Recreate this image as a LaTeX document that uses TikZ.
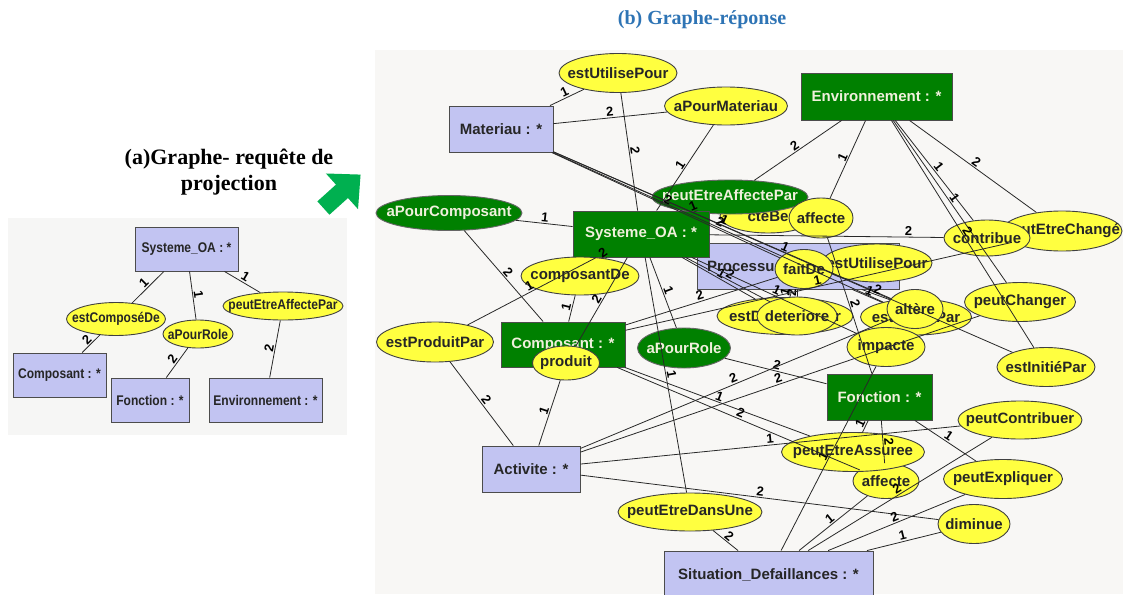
\documentclass[tikz,border=0pt]{standalone}
\usepackage{fontspec}
\usepackage{graphicx}
\setmainfont{Liberation Serif}
\setsansfont{Liberation Sans}
\usetikzlibrary{shapes.geometric}
\definecolor{bgmain}{RGB}{248,247,245}
\definecolor{bgleft}{RGB}{246,246,245}
\definecolor{lav}{RGB}{194,196,242}
\definecolor{grn}{RGB}{0,128,0}
\definecolor{yel}{RGB}{255,255,64}
\definecolor{edgec}{RGB}{40,40,40}
\definecolor{titleblue}{RGB}{46,116,181}
\definecolor{arrowgreen}{RGB}{0,176,80}
\definecolor{gtext}{RGB}{240,240,220}
\newcommand{\lt}[1]{\makebox[0pt]{\scalebox{0.86}[1]{#1}}}
\newcommand{\mt}[1]{\makebox[0pt]{#1}}
\begin{document}
\begin{tikzpicture}[x=1pt,y=-1pt,
  every node/.style={font=\sffamily\bfseries\fontsize{15}{18}\selectfont, inner sep=0pt},
  rb/.style={draw=black!70, line width=0.9pt, fill=lav, rectangle, text=black!85},
  gb/.style={draw=black!70, line width=0.9pt, fill=grn, rectangle, text=gtext},
  ye/.style={draw=black!75, line width=0.9pt, fill=yel, ellipse, text=black!85},
  ge/.style={draw=black!60, line width=0.9pt, fill=grn, ellipse, text=gtext},
  small/.style={font=\sffamily\bfseries\fontsize{14}{16}\selectfont},
  ed/.style={draw=edgec, line width=0.8pt},
  lb/.style={font=\sffamily\bfseries\fontsize{13}{13}\selectfont, sloped, above=1pt, midway, text=black}
]
\useasboundingbox (0,0) rectangle (1123,594);
\fill[white] (0,0) rectangle (1123,594);
\fill[bgmain] (375,50) rectangle (1123,594);
\fill[bgleft] (8,218) rectangle (347,435);

% titles
\node[font=\rmfamily\bfseries\fontsize{20}{22}\selectfont, text=titleblue] (tb) at (702,20) {(b) Graphe-réponse};
\node[font=\rmfamily\bfseries\fontsize{22}{26}\selectfont, align=center] (ta) at (229,172) {(a)Graphe- requête de\\projection};

% green arrow
\begin{scope}[shift={(339,194)}, rotate=42]
\fill[arrowgreen] (-21,-9) -- (4,-9) -- (4,-24) -- (29,0) -- (4,24) -- (4,9) -- (-21,9) -- cycle;
\end{scope}

% ---------- left graph (a)
\node[rb, small, minimum width=103, minimum height=44] (lsys) at (186.5,249) {\lt{Systeme\_OA : *}};
\node[ye, small, minimum width=99, minimum height=33] (lcd) at (116,319) {\lt{estComposéDe}};
\node[ye, small, minimum width=70, minimum height=28] (lapr) at (198,334) {\lt{aPourRole}};
\node[ye, small, minimum width=120, minimum height=28] (lpea) at (283,306) {\lt{peutEtreAffectePar}};
\node[rb, small, minimum width=93, minimum height=44] (lcomp) at (59.5,375) {\lt{Composant : *}};
\node[rb, small, minimum width=78, minimum height=44] (lfon) at (150,400) {\lt{Fonction : *}};
\node[rb, small, minimum width=113, minimum height=44] (lenv) at (265.5,400) {\lt{Environnement : *}};
\draw[ed] (lsys) -- node[lb]{1} (lcd);
\draw[ed] (lcd) -- node[lb]{2} (lcomp);
\draw[ed] (lsys) -- node[lb]{1} (lapr);
\draw[ed] (lapr) -- node[lb]{2} (lfon);
\draw[ed] (lsys) -- node[lb]{1} (lpea);
\draw[ed] (lpea) -- node[lb]{2} (lenv);

% ---------- main graph (b): nodes, bottom first
\node[rb, minimum width=104, minimum height=46] (mat) at (501,129) {\mt{Materiau : *}};
\node[gb, minimum width=151, minimum height=47] (env) at (876.5,96.5) {\mt{Environnement : *}};
\node[rb, minimum width=202, minimum height=46] (proc) at (798,266) {\makebox[0pt][l]{\hspace*{-91pt}Processus : *}};
\node[ye, minimum width=118, minimum height=39] (eup1) at (618,73) {\mt{estUtilisePour}};
\node[ye, minimum width=123, minimum height=38] (apm) at (726,106) {\mt{aPourMateriau}};
\node[ye, minimum width=96, minimum height=34] (hid) at (768,216) {\mt{cteBe}};
\node[ge, minimum width=156, minimum height=34] (pea) at (730,197) {\mt{peutEtreAffectePar}};
\node[ye, minimum width=64, minimum height=40] (aff1) at (821,218) {\mt{affecte}};
\node[gb, minimum width=136, minimum height=46] (sys) at (641,234) {\mt{Systeme\_OA : *}};
\node[ge, minimum width=146, minimum height=35] (apc) at (449,213) {\mt{aPourComposant}};
\node[ye, minimum width=118, minimum height=38] (cde) at (580,276) {\mt{composantDe}};
\node[ye, minimum width=117, minimum height=40] (epp) at (435,342) {\mt{estProduitPar}};
\node[gb, minimum width=124, minimum height=45] (comp) at (563,344.5) {\mt{Composant : *}};
\node[ye, minimum width=67, minimum height=34] (prod) at (566,363) {\mt{produit}};
\node[ge, minimum width=93, minimum height=40] (apr) at (684,348) {\mt{aPourRole}};
\node[ye, minimum width=120, minimum height=40] (pec) at (1062,231) {\mt{peutEtreChangé}};
\node[ye, minimum width=86, minimum height=36] (con) at (987,238) {\mt{contribue}};
\node[ye, minimum width=110, minimum height=38] (eup2) at (877,263) {\mt{estUtilisePour}};
\node[ye, minimum width=58, minimum height=39] (fd) at (804,269) {\mt{faitDe}};
\node[ye, minimum width=111, minimum height=39] (pch) at (1020,302) {\mt{peutChanger}};
\node[ye, minimum width=136, minimum height=37] (edr) at (785,316) {\mt{estDeterioréPar}};
\node[ye, minimum width=80, minimum height=38] (det) at (797,316) {\mt{deteriore}};
\node[ye, minimum width=111, minimum height=36] (eap) at (916,317) {\mt{estAltéréPar}};
\node[ye, minimum width=56, minimum height=39] (alt) at (915,309) {\mt{altère}};
\node[ye, minimum width=78, minimum height=39] (imp) at (886,347) {\mt{impacte}};
\node[ye, minimum width=98, minimum height=39] (eip) at (1046,367) {\mt{estInitiéPar}};
\node[gb, minimum width=105, minimum height=46] (fon) at (879.5,397) {\mt{Fonction : *}};
\node[ye, minimum width=124, minimum height=38] (pctb) at (1020,420) {\mt{peutContribuer}};
\node[ye, minimum width=66, minimum height=35] (aff2) at (886,481) {\mt{affecte}};
\node[ye, minimum width=143, minimum height=39] (pea2) at (853,452) {\mt{peutEtreAssuree}};
\node[ye, minimum width=119, minimum height=39] (pex) at (1003,479) {\mt{peutExpliquer}};
\node[ye, minimum width=72, minimum height=39] (dim) at (974,524) {\mt{diminue}};
\node[ye, minimum width=144, minimum height=38] (ped) at (690,512) {\mt{peutEtreDansUne}};
\node[rb, minimum width=98, minimum height=46] (act) at (531,469) {\mt{Activite : *}};
\node[rb, minimum width=209, minimum height=48] (sit) at (768.5,575) {\mt{Situation\_Defaillances : *}};

% ---------- main graph (b): connectors
\draw[ed] (mat) -- node[lb]{1} (eup1);
\draw[ed] (mat) -- node[lb]{2} (apm);
\draw[ed] (eup1) -- node[lb]{2} (sys);
\draw[ed] (apm) -- node[lb]{1} (sys);
\draw[ed] (sys) -- node[lb]{1} (pea);
\draw[ed] (pea) -- node[lb]{2} (env);
\draw[ed] (env) -- node[lb]{1} (aff1);
\draw[ed] (env) -- node[lb]{1} (con);
\draw[ed] (env) -- node[lb]{1} (pch);
\draw[ed] (env) -- node[lb]{2} (eip);
\draw[ed] (env) -- node[lb]{2} (pec);
\draw[ed] (sys) -- node[lb]{1} (apc);
\draw[ed] (apc) -- node[lb]{2} (comp);
\draw[ed] (sys) -- node[lb]{1} (apr);
\draw[ed] (apr) -- node[lb]{2} (fon);
\draw[ed] (sys) -- node[lb]{2} (cde);
\draw[ed] (cde) -- node[lb]{1} (comp);
\draw[ed] (epp) -- node[lb]{1} (sys);
\draw[ed] (epp) -- node[lb]{2} (act);
\draw[ed] (sys) -- node[lb]{2} (prod);
\draw[ed] (prod) -- node[lb]{1} (act);
\draw[ed] (sys) -- node[lb]{1} (ped);
\draw[ed] (ped) -- node[lb]{2} (sit);
\draw[ed] (mat) -- node[lb]{2} (fd);
\draw[ed] (mat) -- node[lb]{1} (alt);
\draw[ed] (mat) -- node[lb]{2} (eap);
\draw[ed] (mat) -- node[lb]{1} (eip);
\draw[ed] (proc) -- node[lb]{2} (det);
\draw[ed] (proc) -- node[lb]{1} (edr);
\draw[ed] (proc) -- node[lb]{2} (alt);
\draw[ed] (proc) -- node[lb]{1} (eap);
\draw[ed] (sys) -- node[lb]{1} (edr);
\draw[ed] (sys) -- node[lb]{2} (det);
\draw[ed] (sys) -- node[lb, pos=0.85]{2} (con);
\draw[ed] (sys) -- node[lb]{1} (imp);
\draw[ed] (act) -- node[lb]{2} (alt);
\draw[ed] (act) -- node[lb]{2} (pch);
\draw[ed] (act) -- node[lb]{1} (pctb);
\draw[ed] (act) -- node[lb]{2} (dim);
\draw[ed] (sit) -- node[lb]{1} (imp);
\draw[ed] (sit) -- node[lb]{1} (aff2);
\draw[ed] (sit) -- node[lb]{2} (pctb);
\draw[ed] (sit) -- node[lb]{2} (pex);
\draw[ed] (sit) -- node[lb]{1} (dim);
\draw[ed] (fon) -- node[lb]{1} (pea2);
\draw[ed] (fon) -- node[lb]{2} (aff2);
\draw[ed] (fon) -- node[lb]{1} (pex);
\draw[ed] (comp) -- node[lb]{1} (pea2);
\draw[ed] (comp) -- node[lb]{2} (aff2);
\draw[ed] (comp) -- node[lb]{2} (fd);
\draw[ed] (comp) -- node[lb]{1} (pec);
\draw[ed] (aff1) -- node[lb]{2} (fon);
\end{tikzpicture}
\end{document}
